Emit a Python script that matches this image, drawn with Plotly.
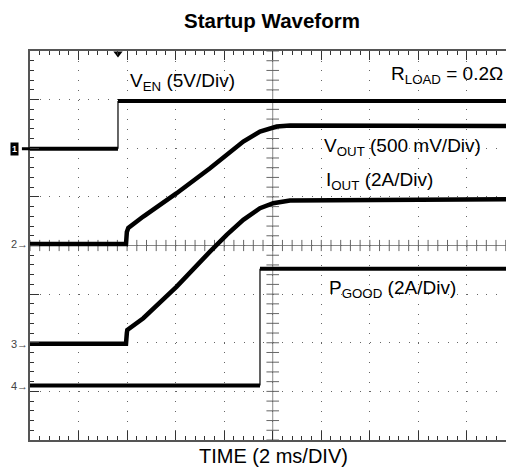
import numpy as np
import plotly.graph_objects as go

# ---- data (time in ms, 2 ms/div; amplitudes in screen divisions) ----
T_END = 19.61
trigger_t = 3.625

ven_t = [0.0, 3.625, 3.625, 19.61]
ven_y = [5.99, 5.99, 6.97, 6.97]

vout_t = [0.0, 3.955, 3.99, 4.05, 4.667, 6.043, 7.415, 8.103, 8.787, 9.475, 10.163, 10.71, 19.61]
vout_y = [4.03, 4.03, 4.28, 4.36, 4.595, 5.076, 5.59, 5.864, 6.138, 6.344, 6.447, 6.47, 6.46]

iout_t = [0.0, 3.955, 3.99, 4.008, 4.667, 6.043, 7.415, 8.103, 8.787, 9.475, 10.02, 10.71, 19.61]
iout_y = [1.98, 1.98, 2.2, 2.263, 2.504, 3.154, 3.874, 4.218, 4.527, 4.767, 4.87, 4.924, 4.95]

pgood_t = [0.0, 9.475, 9.475, 19.61]
pgood_y = [1.12, 1.12, 3.52, 3.52]

channel_labels = ["1", "2", "3", "4"]
channel_levels = [5.99, 4.03, 1.98, 1.12]

FONT = "Liberation Sans, Arial, Helvetica, sans-serif"
fig = go.Figure()

# centre crosshair ticks
minor_x = np.arange(0, T_END + 0.01, 0.4)
minor_y = np.arange(0, 8.01, 0.2)
fig.add_trace(go.Scatter(x=minor_x, y=[4] * len(minor_x), mode="markers",
                         marker=dict(symbol="line-ns", size=8, line=dict(width=1, color="#666")),
                         hoverinfo="skip", cliponaxis=False))
fig.add_trace(go.Scatter(x=[10] * len(minor_y), y=minor_y, mode="markers",
                         marker=dict(symbol="line-ew", size=9, line=dict(width=1, color="#666")),
                         hoverinfo="skip", cliponaxis=False))

def step_traces(t, y):
    fig.add_trace(go.Scatter(x=t[:2], y=y[:2], mode="lines", line=dict(color="black", width=4), hoverinfo="skip"))
    fig.add_trace(go.Scatter(x=t[1:3], y=y[1:3], mode="lines", line=dict(color="black", width=1.2), hoverinfo="skip"))
    fig.add_trace(go.Scatter(x=t[2:], y=y[2:], mode="lines", line=dict(color="black", width=4), hoverinfo="skip"))

step_traces(ven_t, ven_y)
step_traces(pgood_t, pgood_y)
fig.add_trace(go.Scatter(x=vout_t, y=vout_y, mode="lines", line=dict(color="black", width=4.5), hoverinfo="skip"))
fig.add_trace(go.Scatter(x=iout_t, y=iout_y, mode="lines", line=dict(color="black", width=4.5), hoverinfo="skip"))

# trigger marker
fig.add_trace(go.Scatter(x=[trigger_t], y=[7.95], mode="markers",
                         marker=dict(symbol="triangle-down", size=8, color="black"),
                         hoverinfo="skip", cliponaxis=False))

# centre lines
fig.add_shape(type="line", x0=10, x1=10, y0=0, y1=8, xref="x", yref="y",
              line=dict(color="#888", width=1), layer="below")
fig.add_shape(type="line", x0=0, x1=T_END, y0=4, y1=4, xref="x", yref="y",
              line=dict(color="#888", width=1), layer="below")

lab = dict(size=19, color="black", family=FONT)
def ann(text, x, y, xanchor="left", font=lab, xref="x", **kw):
    fig.add_annotation(text=text, x=x, y=y, xref=xref, yref="y", xanchor=xanchor,
                       yanchor="middle", showarrow=False, font=font, **kw)

ann("V<sub>EN</sub> (5V/Div)", 4.04, 7.36)
ann("R<sub>LOAD</sub> = 0.2Ω", 19.57, 7.50, xanchor="right")
ann("V<sub>OUT</sub> (500 mV/Div)", 12.03, 6.03)
ann("I<sub>OUT</sub> (2A/Div)", 12.11, 5.33)
ann("P<sub>GOOD</sub> (2A/Div)", 12.24, 3.11)

# channel markers (left of the grid)
ann("<b>" + channel_labels[0] + "</b>", -0.032, channel_levels[0], xanchor="center", xref="paper",
    font=dict(size=9, color="white", family=FONT), bgcolor="black", borderpad=1)
fig.add_shape(type="line", x0=-0.017, x1=0, y0=channel_levels[0], y1=channel_levels[0],
              xref="paper", yref="y", line=dict(color="black", width=3))
for lbl, lvl in zip(channel_labels[1:], channel_levels[1:]):
    ann(lbl + "→", 0.0, lvl, xanchor="right", xref="paper",
        font=dict(size=11, color="#444", family=FONT))

fig.add_annotation(text="TIME (2 ms/DIV)", x=(273 - 30) / 476, y=-0.04, xref="paper", yref="paper",
                   xanchor="center", yanchor="middle", showarrow=False,
                   font=dict(size=20, color="black", family=FONT))

tickc = "#333"
fig.update_layout(
    width=506, height=467,
    margin=dict(l=30, r=0, t=51, b=27),
    paper_bgcolor="white", plot_bgcolor="white",
    showlegend=False,
    title=dict(text="<b>Startup Waveform</b>", x=272 / 506, xanchor="center",
               y=1 - 21 / 467, yanchor="middle", font=dict(size=20.5, color="black", family=FONT)),
    xaxis=dict(range=[0, T_END], tick0=0, dtick=2, showticklabels=False,
               ticks="inside", ticklen=9, tickcolor=tickc, tickwidth=1,
               showline=True, linecolor="#555", linewidth=1.5, mirror="ticks",
               showgrid=True, gridcolor="#666", gridwidth=1, griddash="1px,8.725px",
               zeroline=False, fixedrange=True,
               minor=dict(dtick=0.4, tick0=0, ticks="inside", ticklen=4, tickcolor=tickc, showgrid=False)),
    yaxis=dict(range=[0, 8], tick0=0, dtick=1, showticklabels=False,
               ticks="inside", ticklen=9, tickcolor=tickc, tickwidth=1,
               showline=True, linecolor="#555", linewidth=1.5, mirror=False,
               showgrid=True, gridcolor="#666", gridwidth=1, griddash="1px,8.71px",
               zeroline=False, fixedrange=True,
               minor=dict(dtick=0.2, tick0=0, ticks="inside", ticklen=4, tickcolor=tickc, showgrid=False)),
)

fig.write_html("out.html", config={"displayModeBar": False},
               post_script="document.body.style.margin='0';document.body.style.overflow='hidden';")
